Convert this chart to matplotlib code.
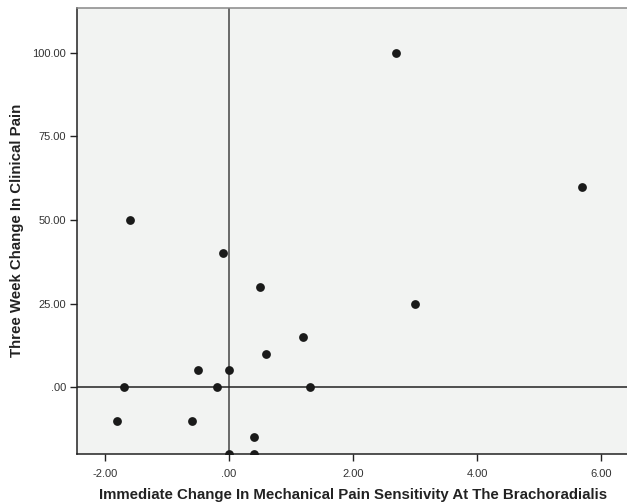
import matplotlib
matplotlib.use("Agg")
import matplotlib.pyplot as plt

plt.rcParams['font.family'] = ['Liberation Sans', 'DejaVu Sans']

x_vals = [2.7, 5.7, -1.6, -0.1, 0.5, 3.0, 1.2, 0.6, -0.5, 0.0, -1.7, -0.2, 1.3, -1.8, -0.6, 0.4, 0.4, 0.0]
y_vals = [100, 60, 50, 40, 30, 25, 15, 10, 5, 5, 0, 0, 0, -10, -10, -15, -20, -20]

x_ticks = [-2, 0, 2, 4, 6]
x_tick_labels = ['-2.00', '.00', '2.00', '4.00', '6.00']
y_ticks = [0, 25, 50, 75, 100]
y_tick_labels = ['.00', '25.00', '50.00', '75.00', '100.00']

fig = plt.figure(figsize=(6.27, 5.04), dpi=100)
fig.patch.set_facecolor('white')
ax = fig.add_axes([0.1228, 0.0992, 0.8772, 0.8849])
ax.set_facecolor('#f2f3f2')

ax.set_xlim(-2.45, 6.42)
ax.set_ylim(-20, 113.4)

ax.axvline(0, color='#444444', lw=1.1, zorder=1)
ax.axhline(0, color='#222222', lw=1.1, zorder=1)

ax.scatter(x_vals, y_vals, s=40, color='#1a1a1a', zorder=3, clip_on=True, linewidths=0)

ax.set_xticks(x_ticks)
ax.set_xticklabels(x_tick_labels)
ax.set_yticks(y_ticks)
ax.set_yticklabels(y_tick_labels)
ax.tick_params(axis='both', direction='out', length=5, width=1, color='#222222',
               labelsize=8, labelcolor='#333333')
ax.tick_params(axis='y', pad=3)
ax.tick_params(axis='x', pad=6)

for s in ['left', 'bottom']:
    ax.spines[s].set_color('#222222')
    ax.spines[s].set_linewidth(1.1)
ax.spines['top'].set_color('#888888')
ax.spines['top'].set_linewidth(1.1)
ax.spines['right'].set_visible(False)

ax.set_xlabel('Immediate Change In Mechanical Pain Sensitivity At The Brachoradialis',
              fontsize=10.8, fontweight='bold', color='#222222', va='center')
ax.xaxis.set_label_coords(0.502, -0.092)
ax.set_ylabel('Three Week Change In Clinical Pain', fontsize=10.8, fontweight='bold',
              color='#222222', va='center')
ax.yaxis.set_label_coords(-0.109, 0.502)

fig.savefig('out.png', dpi=100, facecolor='white')
